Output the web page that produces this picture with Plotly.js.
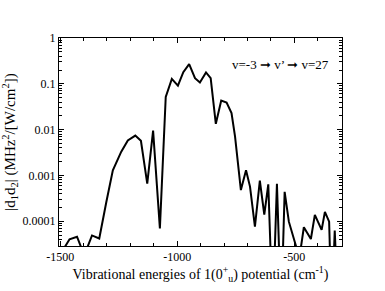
<!DOCTYPE html>
<html>
<head>
<meta charset="utf-8">
<script src="https://cdn.plot.ly/plotly-3.0.1.min.js"></script>
<style>html,body{margin:0;padding:0;background:#fff;}#chart{width:385px;height:291px;}</style>
</head>
<body>
<div id="chart"></div>
<script>
// Vibrational energies (cm^-1)
const energies = [-1485, -1460, -1428, -1397, -1364, -1333, -1303, -1275, -1239, -1211, -1179, -1155, -1128, -1103, -1074, -1049, -1023, -997, -974, -949, -924, -903, -877, -857, -835, -812, -789, -768, -753, -728, -706, -689, -668, -647, -628, -611, -592, -574, -556, -541, -523, -497, -478, -459, -429, -412, -383, -369, -351, -340, -327, -312];
// |d1 d2| (MHz^2/[W/cm^2])
const d1d2 = [2.5e-5, 4.05e-5, 4.6e-5, 1.8e-5, 4.9e-5, 4.2e-5, 2.6e-4, 1.3e-3, 3.3e-3, 5.8e-3, 7.4e-3, 5.7e-3, 6.6e-4, 9.5e-3, 7.0e-5, 0.052, 0.128, 0.091, 0.18, 0.27, 0.133, 0.107, 0.177, 0.133, 0.0134, 0.043, 0.039, 0.023, 0.0071, 4.8e-4, 1.3e-3, 5.7e-4, 7.6e-5, 7.7e-4, 1.4e-4, 6.4e-4, 1e-6, 6.6e-4, 1e-6, 4.4e-4, 9.8e-5, 3.8e-5, 1.6e-5, 7.4e-5, 4.1e-5, 1.38e-4, 6.5e-5, 1.6e-4, 9.8e-5, 1e-6, 6.3e-5, 1e-6];

const xTickVals = [-1500, -1000, -500];
const xTickText = ['-1500', '-1000', '-500'];
const yTickVals = [1, 0.1, 0.01, 0.001, 0.0001];
const yTickText = ['1', '0.1', '0.01', '0.001', '0.0001'];
const yMinorVals = [];
[1e-5, 1e-4, 1e-3, 1e-2, 1e-1].forEach(d => { for (let k = 2; k <= 9; k++) yMinorVals.push(k * d); });

const annText = "v=-3 \u279E v\u2019 \u279E v=27";

const font = {family: '"Liberation Serif", "Times New Roman", serif', color: '#000'};

const trace = {
  x: energies, y: d1d2, type: 'scatter', mode: 'lines',
  line: {color: '#000', width: 2}, hoverinfo: 'skip'
};

const layout = {
  width: 385, height: 291,
  margin: {l: 59, r: 43, t: 38, b: 45},
  paper_bgcolor: '#fff', plot_bgcolor: '#fff',
  showlegend: false,
  font: Object.assign({size: 12}, font),
  xaxis: {
    range: [-1505, -296],
    tickmode: 'array', tickvals: xTickVals, ticktext: xTickText,
    ticks: 'inside', ticklen: 5, tickcolor: '#000', tickwidth: 1,
    minor: {ticks: 'inside', ticklen: 3, tickcolor: '#000', dtick: 100, tick0: 0, showgrid: false},
    showgrid: false, zeroline: false,
    showline: true, linecolor: '#000', linewidth: 1, mirror: 'allticks',
    tickfont: Object.assign({size: 12}, font),
    title: {text: 'Vibrational energies of 1(0<sup>+</sup><sub>u</sub>) potential (cm<sup>-1</sup>)', font: Object.assign({size: 14}, font), standoff: 4}
  },
  yaxis: {
    type: 'log', range: [-4.54, 0],
    tickmode: 'array', tickvals: yTickVals, ticktext: yTickText,
    ticks: 'inside', ticklen: 5, tickcolor: '#000', tickwidth: 1,
    minor: {ticks: 'inside', ticklen: 3, tickcolor: '#000', tickmode: 'array', tickvals: yMinorVals, showgrid: false},
    showgrid: false, zeroline: false,
    showline: true, linecolor: '#000', linewidth: 1, mirror: 'allticks',
    tickfont: Object.assign({size: 12}, font),
    title: {text: '|d<sub>1</sub>d<sub>2</sub>| (MHz<sup>2</sup>/[W/cm<sup>2</sup>])', font: Object.assign({size: 15}, font), standoff: 4}
  },
  annotations: [{
    xref: 'paper', yref: 'paper', x: 0.782, y: 0.875,
    xanchor: 'center', yanchor: 'middle', showarrow: false,
    text: annText, font: Object.assign({size: 13}, font)
  }]
};

Plotly.newPlot('chart', [trace], layout, {staticPlot: true, displayModeBar: false});
</script>
</body>
</html>
